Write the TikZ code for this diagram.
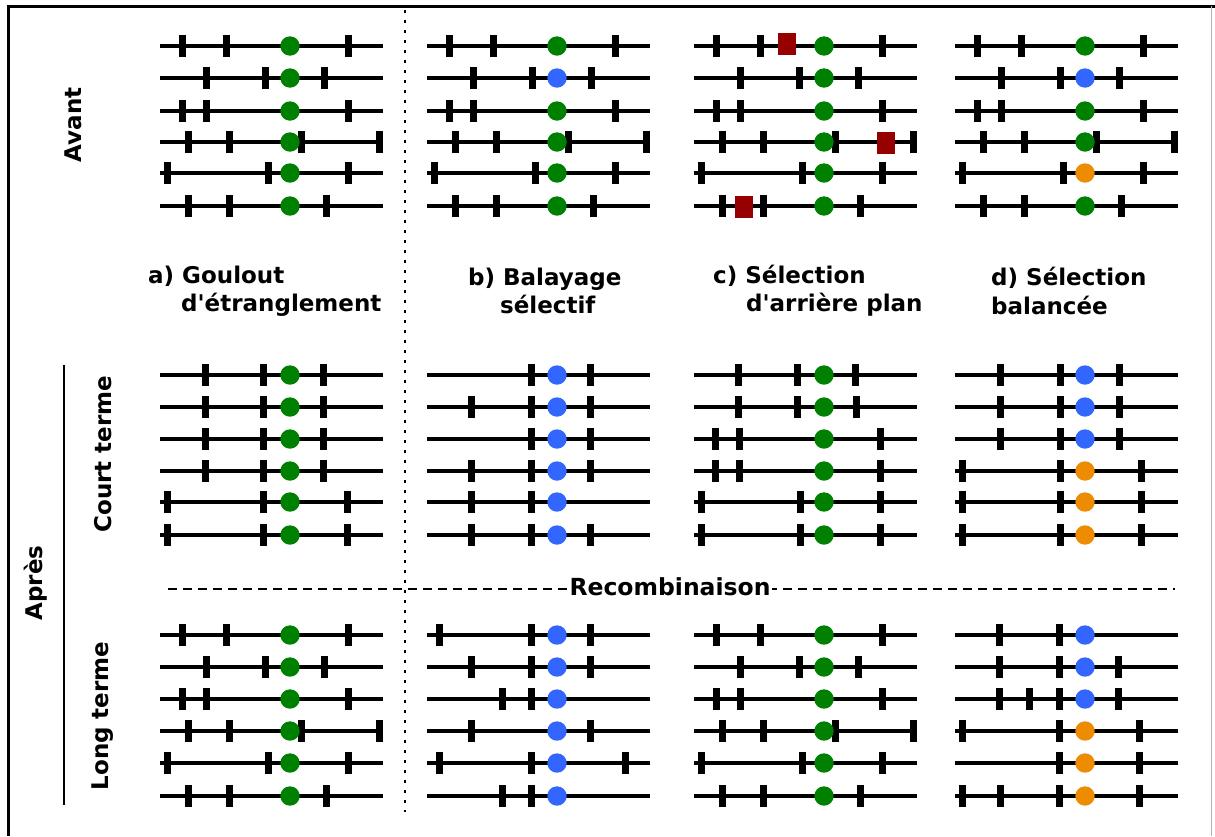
\documentclass[tikz,border=0pt]{standalone}
\usepackage{fontspec}
\setmainfont{DejaVu Sans}[Ligatures=TeXOff]
\definecolor{cgreen}{RGB}{0,128,0}
\definecolor{cblue}{RGB}{51,102,255}
\definecolor{corange}{RGB}{237,140,0}
\definecolor{cred}{RGB}{150,0,0}
\newcommand\chrom[4]{%
  \draw[chrline] (#1,#2) -- ++(223,0);
  \foreach \tk in {#3} { \fill[black] ({#1+\tk-3.5},{#2-11}) rectangle ++(7,22); }
  \fill[#4] ({#1+130},#2) circle (9.7);
}
\newcommand\redsq[2]{\fill[cred] ({#1-9},{#2-11}) rectangle ++(18,22);}
\begin{document}
\begin{tikzpicture}[x=1pt,y=-1pt,
  chrline/.style={line width=3.5pt,black},
  lbl/.style={font=\fontsize{23}{28}\selectfont\bfseries,inner sep=0pt,anchor=west,text height=17pt,text depth=5pt},
  side/.style={font=\fontsize{23}{28}\selectfont\bfseries,inner sep=0pt,rotate=90}]
\useasboundingbox (0,0) rectangle (1215,836);
\fill[white] (0,0) rectangle (1215,836);
% frame
\draw[line width=3pt] (8,836) -- (8,6) -- (1215,6);
\draw[line width=1pt,black!30] (1211,6) -- (1211,836);
% separators
\draw[line width=2.5pt,dash pattern=on 2.5pt off 7.5pt] (405,10) -- (405,812);
\draw[line width=2pt] (64,365) -- (64,805);
\draw[line width=2pt,dash pattern=on 9pt off 6pt] (168,589) -- (1175,589);
\node[fill=white,inner xsep=2pt,inner ysep=0pt,font=\fontsize{23.5}{28}\selectfont\bfseries] (recomb) at (670,587) {Recombinaison};
% side labels
\node[side] (avant) at (73,125) {Avant};
\node[side] (apres) at (36,583) {Après};
\node[side] (court) at (103,454) {Court terme};
\node[side] (long) at (103,716) {Long terme};
% panel labels
\node[lbl] (la1) at (148,277) {a) Goulout};
\node[lbl] (la2) at (181,305) {d'étranglement};
\node[lbl] (lb1) at (468,279) {b) Balayage};
\node[lbl] (lb2) at (500,307) {sélectif};
\node[lbl] (lc1) at (713,277) {c) Sélection};
\node[lbl] (lc2) at (746,305) {d'arrière plan};
\node[lbl] (ld1) at (991,279) {d) Sélection};
\node[lbl] (ld2) at (991,308) {balancée};
% ===== Avant =====
% a
\chrom{160}{46}{22,66,188}{cgreen}
\chrom{160}{78}{46,105,164}{cgreen}
\chrom{160}{111}{22,46,188}{cgreen}
\chrom{160}{142}{28,69,141,219}{cgreen}
\chrom{160}{173}{7,108,188}{cgreen}
\chrom{160}{206}{28,69,166}{cgreen}
% b
\chrom{427}{46}{22,66,188}{cgreen}
\chrom{427}{78}{46,105,164}{cblue}
\chrom{427}{111}{22,46,188}{cgreen}
\chrom{427}{142}{28,69,141,219}{cgreen}
\chrom{427}{173}{7,108,188}{cgreen}
\chrom{427}{206}{28,69,166}{cgreen}
% c
\chrom{694}{46}{22,66,188}{cgreen}
\chrom{694}{78}{46,105,164}{cgreen}
\chrom{694}{111}{22,46,188}{cgreen}
\chrom{694}{142}{28,69,141,219}{cgreen}
\chrom{694}{173}{7,108,188}{cgreen}
\chrom{694}{206}{28,69,166}{cgreen}
\redsq{787}{44}
\redsq{886}{143}
\redsq{744}{207}
% d
\chrom{955}{46}{22,66,188}{cgreen}
\chrom{955}{78}{46,105,164}{cblue}
\chrom{955}{111}{22,46,188}{cgreen}
\chrom{955}{142}{28,69,141,219}{cgreen}
\chrom{955}{173}{7,108,188}{corange}
\chrom{955}{206}{28,69,166}{cgreen}
% ===== Court terme =====
% a
\chrom{160}{375}{45,103,163}{cgreen}
\chrom{160}{407}{45,103,163}{cgreen}
\chrom{160}{439}{45,103,163}{cgreen}
\chrom{160}{471}{45,103,163}{cgreen}
\chrom{160}{502}{7,103,187}{cgreen}
\chrom{160}{535}{7,103,187}{cgreen}
% b
\chrom{427}{375}{104,163}{cblue}
\chrom{427}{407}{44,104,163}{cblue}
\chrom{427}{439}{104,163}{cblue}
\chrom{427}{471}{44,104,163}{cblue}
\chrom{427}{502}{44,104}{cblue}
\chrom{427}{535}{44,104,163}{cblue}
% c
\chrom{694}{375}{44,103,161}{cgreen}
\chrom{694}{407}{44,103,162}{cgreen}
\chrom{694}{439}{21,45,186}{cgreen}
\chrom{694}{471}{21,45,186}{cgreen}
\chrom{694}{502}{7,106,186}{cgreen}
\chrom{694}{535}{7,106,186}{cgreen}
% d
\chrom{955}{375}{45,105,164}{cblue}
\chrom{955}{407}{45,105,164}{cblue}
\chrom{955}{439}{45,105,164}{cblue}
\chrom{955}{471}{7,105,186}{corange}
\chrom{955}{502}{7,105,186}{corange}
\chrom{955}{535}{7,105,186}{corange}
% ===== Long terme =====
% a
\chrom{160}{635}{22,66,188}{cgreen}
\chrom{160}{667}{46,105,164}{cgreen}
\chrom{160}{699}{22,46,188}{cgreen}
\chrom{160}{731}{28,69,141,219}{cgreen}
\chrom{160}{763}{7,108,188}{cgreen}
\chrom{160}{796}{28,69,166}{cgreen}
% b
\chrom{427}{635}{12,104,163}{cblue}
\chrom{427}{667}{44,104,163}{cblue}
\chrom{427}{699}{75,104}{cblue}
\chrom{427}{731}{44,163}{cblue}
\chrom{427}{763}{12,104,198}{cblue}
\chrom{427}{796}{75,104}{cblue}
% c
\chrom{694}{635}{22,66,188}{cgreen}
\chrom{694}{667}{46,105,164}{cgreen}
\chrom{694}{699}{22,46,188}{cgreen}
\chrom{694}{731}{28,69,141,219}{cgreen}
\chrom{694}{763}{7,108,188}{cgreen}
\chrom{694}{796}{28,69,166}{cgreen}
% d
\chrom{955}{635}{44,104}{cblue}
\chrom{955}{667}{44,104,163}{cblue}
\chrom{955}{699}{44,74,104,163}{cblue}
\chrom{955}{731}{7,104,184}{corange}
\chrom{955}{763}{104,184}{corange}
\chrom{955}{796}{7,45,104,184}{corange}
\end{tikzpicture}
\end{document}
